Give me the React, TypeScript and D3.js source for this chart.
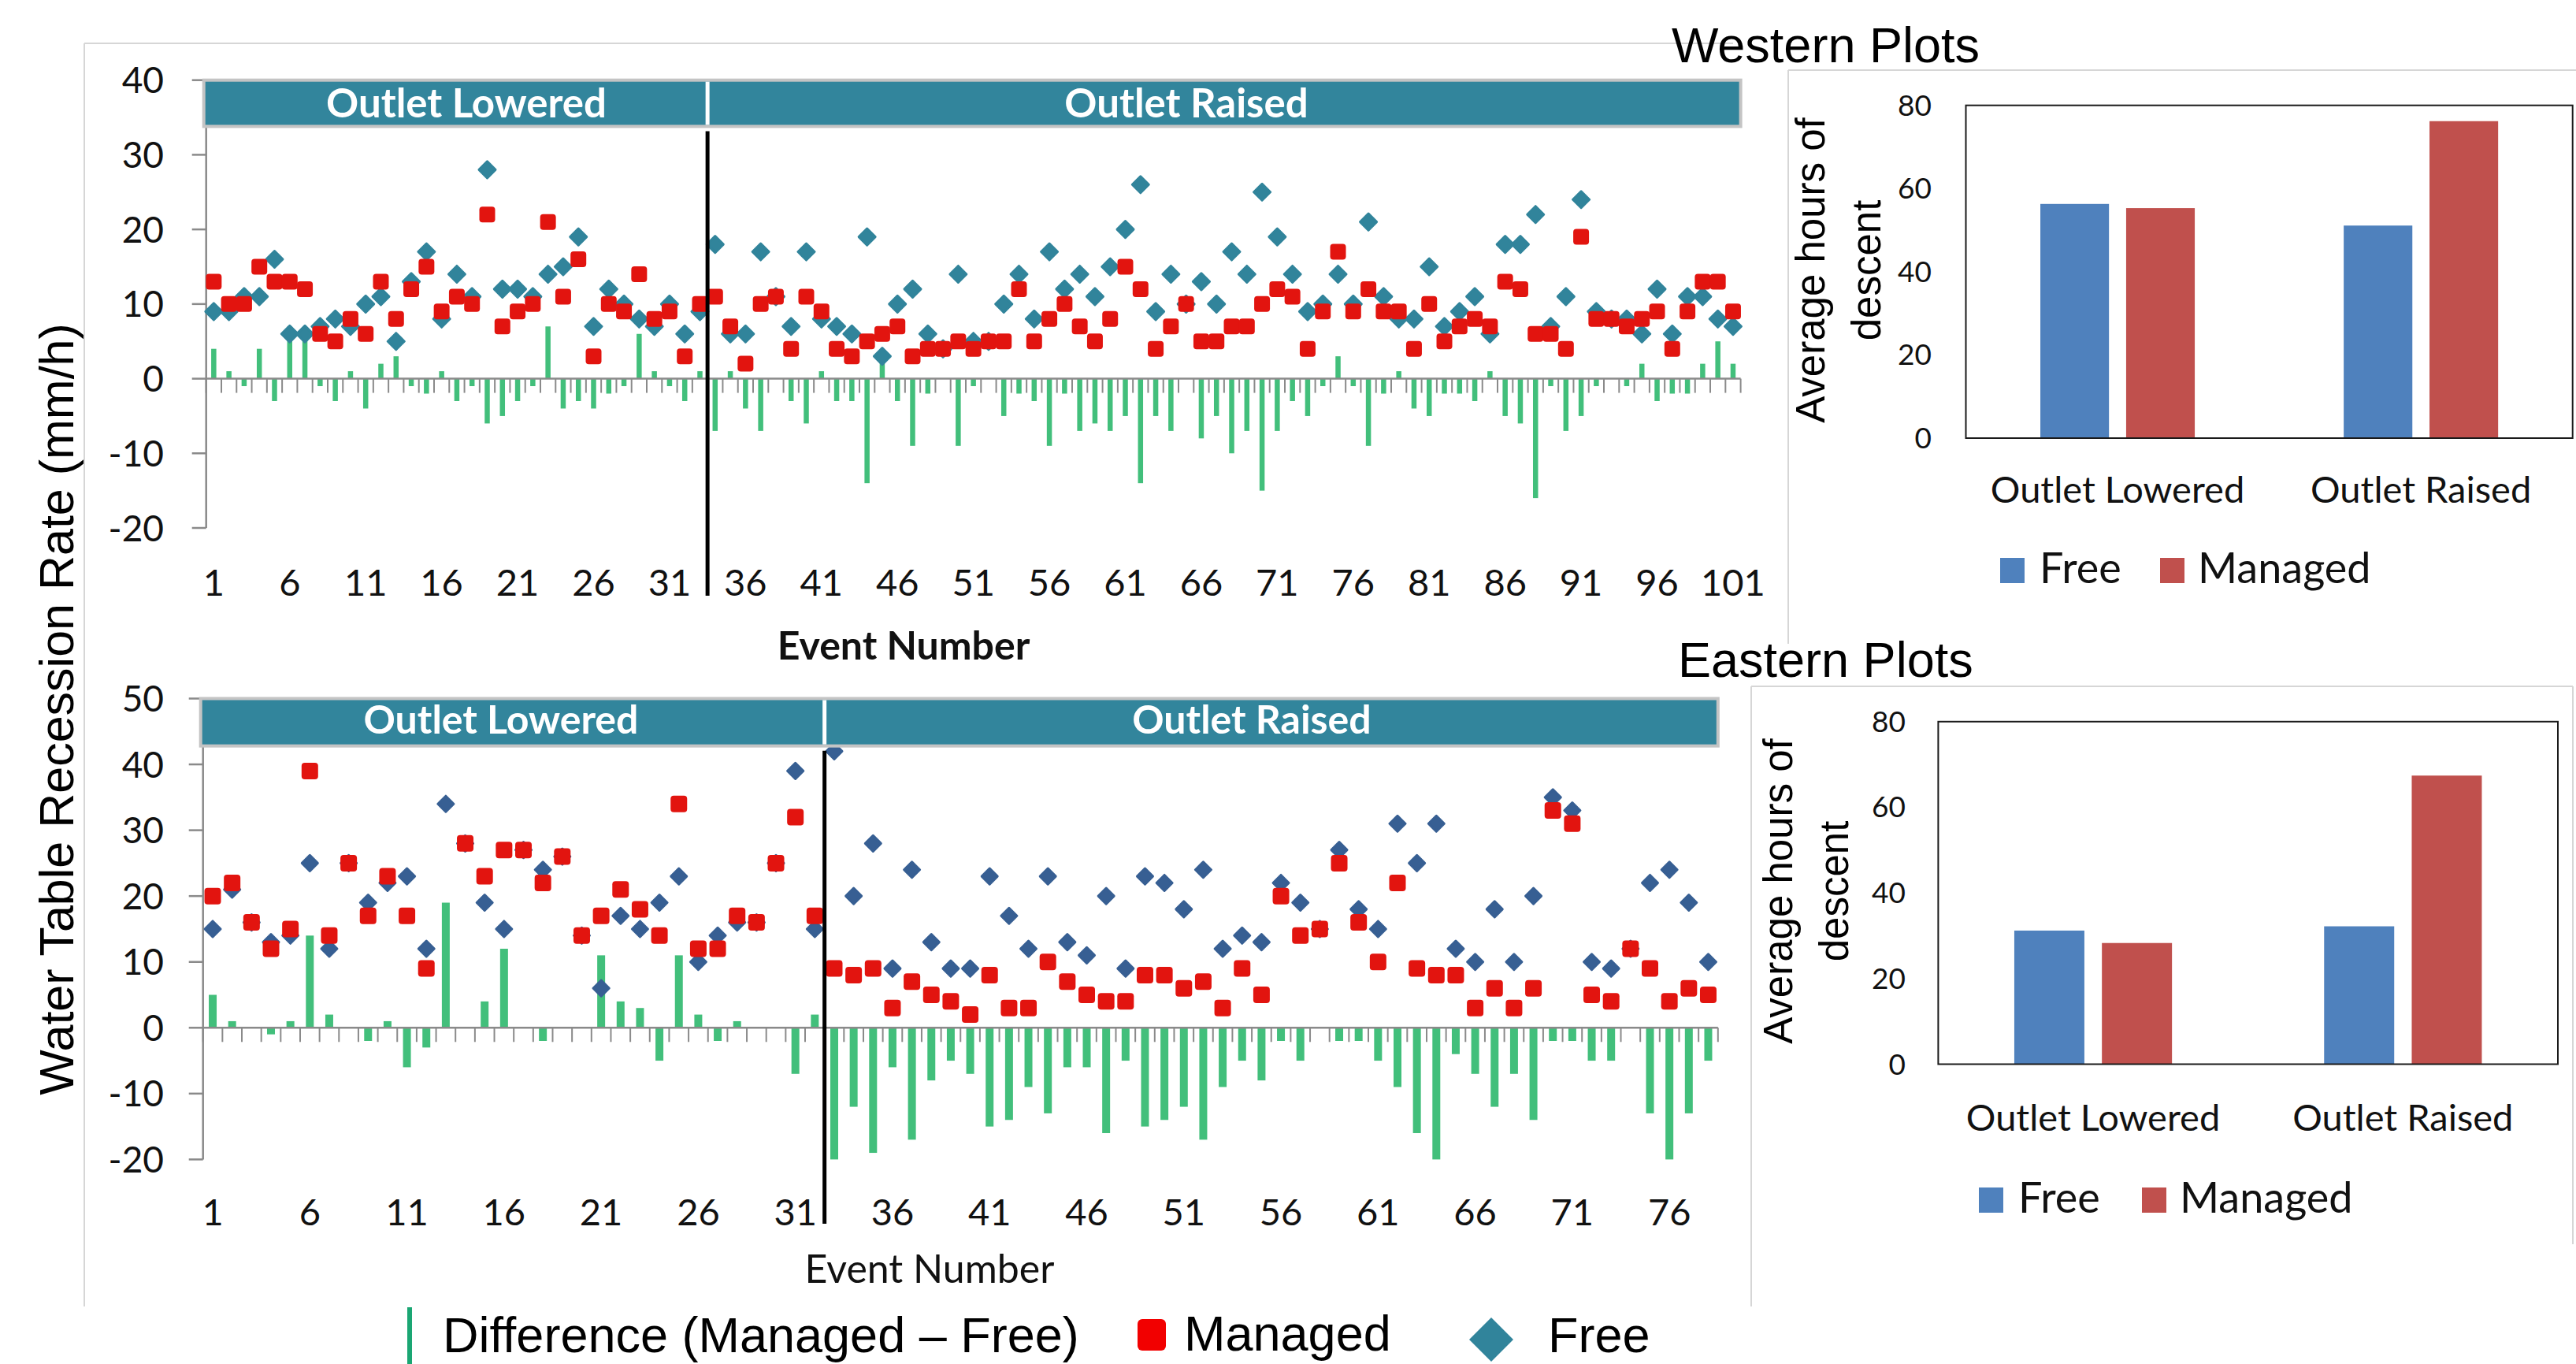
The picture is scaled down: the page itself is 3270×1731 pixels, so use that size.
import React from 'react';
import * as d3 from 'd3';

// ---------------- DATA ----------------
// Top panel (Western plots) – 101 events
const topManaged = [
  13, 10, 10, 15, 13, 13, 12, 6, 5, 8, 6, 13, 8, 12, 15, 9, 11, 10, 22, 7, 9, 10, 21, 11, 16, 3, 10, 9, 14, 8, 9, 3, 10,
  11, 7, 2, 10, 11, 4, 11, 9, 4, 3, 5, 6, 7, 3, 4, 4, 5, 4, 5, 5, 12, 5, 8, 10, 7, 5, 8, 15, 12, 4, 7, 10, 5, 5, 7, 7,
  10, 12, 11, 4, 9, 17, 9, 12, 9, 9, 4, 10, 5, 7, 8, 7, 13, 12, 6, 6, 4, 19, 8, 8, 7, 8, 9, 4, 9, 13, 13, 9,
];
const topFree = [
  9, 9, 11, 11, 16, 6, 6, 7, 8, 7, 10, 11, 5, 13, 17, 8, 14, 11, 28, 12, 12, 11, 14, 15, 19, 7, 12, 10, 8, 7, 10, 6, 9,
  18, 6, 6, 17, 11, 7, 17, 8, 7, 6, 19, 3, 10, 12, 6, 4, 14, 5, 5, 10, 14, 8, 17, 12, 14, 11, 15, 20, 26, 9, 14, 10, 13, 10, 17, 14,
  25, 19, 14, 9, 10, 14, 10, 21, 11, 8, 8, 15, 7, 9, 11, 6, 18, 18, 22, 7, 11, 24, 9, 8, 8, 6, 12, 6, 11, 11, 8, 7,
];
const topDiff = [
  4, 1, -1, 4, -3, 7, 6, -1, -3, 1, -4, 2, 3, -1, -2, 1, -3, -1, -6, -5, -3, -1, 7, -4, -3, -4, -2, -1, 6, 1, -1, -3, 1,
  -7, 1, -4, -7, 0, -3, -6, 1, -3, -3, -14, 3, -3, -9, -2, 0, -9, -1, 0, -5, -2, -3, -9, -2, -7, -6, -7, -5, -14, -5, -7, 0, -8, -5, -10, -7,
  -15, -7, -3, -5, -1, 3, -1, -9, -2, 1, -4, -5, -2, -2, -3, 1, -5, -6, -16, -1, -7, -5, -1, 0, -1, 2, -3, -2, -2, 2, 5, 2,
];

// Bottom panel (Eastern plots) – 78 events
const bottomManaged: (number | null)[] = [
  20, 22, 16, 12, 15, 39, 14, 25, 17, 23, 17, 9, null, 28, 23, 27, 27, 22, 26, 14, 17, 21, 18, 14, 34, 12, 12, 17, 16, 25, 32, 17,
  9, 8, 9, 3, 7, 5, 4, 2, 8, 3, 3, 10, 7, 5, 4, 4, 8, 8, 6, 7, 3, 9, 5, 20, 14, 15, 25, 16, 10, 22, 9, 8, 8, 3, 6, 3, 6, 33, 31, 5,
  4, 12, 9, 4, 6, 5,
];
const bottomFree = [
  15, 21, 16, 13, 14, 25, 12, 25, 19, 22, 23, 12, 34, 28, 19, 15, 27, 24, 26, 14, 6, 17, 15, 19, 23, 10, 14, 16, 16, 25, 39, 15,
  42, 20, 28, 9, 24, 13, 9, 9, 23, 17, 12, 23, 13, 11, 20, 9, 23, 22, 18, 24, 12, 14, 13, 22, 19, 15, 27, 18, 15, 31, 25, 31, 12, 10,
  18, 10, 20, 35, 33, 10, 9, 12, 22, 24, 19, 10,
];
const bottomDiff = [
  5, 1, 0, -1, 1, 14, 2, 0, -2, 1, -6, -3, 19, 0, 4, 12, 0, -2, 0, 0, 11, 4, 3, -5, 11, 2, -2, 1, 0, 0, -7, 2,
  -33, -12, -19, -6, -17, -8, -5, -7, -15, -14, -9, -13, -6, -6, -16, -5, -15, -14, -12, -17, -9, -5, -8, -2, -5, 0, -2, -2, -5, -9,
  -16, -23, -4, -7, -12, -7, -14, -2, -2, -5, -5, 0, -13, -20, -13, -5,
];

const topXTicks = [1, 6, 11, 16, 21, 26, 31, 36, 41, 46, 51, 56, 61, 66, 71, 76, 81, 86, 91, 96, 101];
const bottomXTicks = [1, 6, 11, 16, 21, 26, 31, 36, 41, 46, 51, 56, 61, 66, 71, 76];
const topYTicks = [40, 30, 20, 10, 0, -10, -20];
const bottomYTicks = [50, 40, 30, 20, 10, 0, -10, -20];

const barCategories = ['Outlet Lowered', 'Outlet Raised'];
const barSeries = ['Free', 'Managed'];
const westernFree = [56.3, 51.1];
const westernManaged = [55.3, 76.2];
const easternFree = [31.2, 32.2];
const easternManaged = [28.3, 67.4];
const barYTicks = [0, 20, 40, 60, 80];

// ---------------- STYLE ----------------
const CAL = "Lato, 'Open Sans', sans-serif";
const ARI = "'Liberation Sans', Arial, Helvetica, sans-serif";
const BANNER = '#32859c';
const TEAL = '#31849b';
const NAVY = '#375f93';
const RED = '#e2140f';
const GREEN = '#42bf7b';
const AXIS = '#8a8a8a';
const FREE_C = '#4f81bd';
const MAN_C = '#c0504d';
const BORDER = '#d6d6d6';

function diamondPath(cx: number, cy: number, h: number) {
  return `M${cx},${cy - h}L${cx + h},${cy}L${cx},${cy + h}L${cx - h},${cy}Z`;
}

function EventChart(p: any) {
  const n = p.managed.length;
  const events = d3.range(1, n + 1);
  const x = d3.scaleBand<number>().domain(events).range([p.x0, p.x1]).paddingInner(0).paddingOuter(0);
  const bw = x.bandwidth();
  const cx = (e: number) => (x(e) as number) + bw / 2;
  const y = d3.scaleLinear().domain(p.yDomain).range(p.yRange);
  const yc = (v: number) => y(Math.max(p.yDomain[0], Math.min(p.yDomain[1], v)));
  const y0 = y(0);
  const divX = x(p.split + 1) as number;
  const boundaries = events.map((e) => x(e) as number).concat([p.x1]);
  const hd = p.diamond / 2;
  const sq = p.square;
  return (
    <g>
      {/* y axis */}
      <line x1={p.x0} x2={p.x0} y1={y(p.yDomain[1])} y2={y(p.yDomain[0])} stroke={AXIS} strokeWidth={2.5} />
      {p.yTicks.map((t: number) => (
        <g key={'yt' + t}>
          <line x1={p.x0 - 18} x2={p.x0} y1={y(t)} y2={y(t)} stroke={AXIS} strokeWidth={2.5} />
          <text x={p.yLabelRight} y={y(t) + 16.5} textAnchor="end" fontFamily={CAL} fontSize={46} fill="#111">
            {t}
          </text>
        </g>
      ))}
      {/* category tick marks */}
      {boundaries.map((bx, i) => (
        <line key={'xt' + i} x1={bx} x2={bx} y1={y0} y2={y0 + 18} stroke={AXIS} strokeWidth={2} />
      ))}
      {/* difference bars */}
      {p.diff.map((d: number, i: number) =>
        d === 0 ? null : (
          <rect
            key={'b' + i}
            x={cx(i + 1) - p.barW / 2}
            y={Math.min(yc(d), y0)}
            width={p.barW}
            height={Math.abs(yc(d) - y0)}
            fill={GREEN}
          />
        )
      )}
      <line x1={p.x0} x2={p.x1} y1={y0} y2={y0} stroke={AXIS} strokeWidth={2.5} />
      {/* free diamonds */}
      {p.free.map((v: number, i: number) => (
        <path
          key={'f' + i}
          d={diamondPath(cx(i + 1), y(v), hd - 1.5)}
          fill={p.diamondColor}
          stroke={p.diamondColor}
          strokeWidth={3}
          strokeLinejoin="round"
        />
      ))}
      {/* managed squares */}
      {p.managed.map((v: number | null, i: number) =>
        v === null ? null : (
          <rect
            key={'m' + i}
            x={cx(i + 1) - sq / 2}
            y={y(v) - sq / 2}
            width={sq}
            height={sq}
            rx={4}
            fill={RED}
          />
        )
      )}
      {/* banner */}
      <rect
        x={p.x0 - 3}
        y={y(p.yDomain[1])}
        width={p.x1 - p.x0 + 3}
        height={y(p.bannerLow) - y(p.yDomain[1])}
        fill={BANNER}
        stroke="#c4c4c4"
        strokeWidth={4}
      />
      <line x1={divX} x2={divX} y1={y(p.yDomain[1]) + 2} y2={y(p.bannerLow) - 2} stroke="#ffffff" strokeWidth={5} />
      <text x={p.lowLabelX} y={p.bannerBaseline} textAnchor="middle" fontFamily={CAL} fontWeight={700} fontSize={p.bannerSize} fill="#ffffff">
        Outlet Lowered
      </text>
      <text x={p.raiseLabelX} y={p.bannerBaseline} textAnchor="middle" fontFamily={CAL} fontWeight={700} fontSize={p.bannerSize} fill="#ffffff">
        Outlet Raised
      </text>
      {/* divider */}
      <line x1={divX} x2={divX} y1={y(p.bannerLow) + 6} y2={p.dividerBottom} stroke="#000" strokeWidth={5} />
      {/* x labels */}
      {p.xTicks.map((t: number) => (
        <text key={'xl' + t} x={cx(t)} y={p.xLabelBaseline} textAnchor="middle" fontFamily={CAL} fontSize={p.xLabelSize} fill="#111">
          {t}
        </text>
      ))}
      <text
        x={p.titleX}
        y={p.titleBaseline}
        textAnchor="middle"
        fontFamily={CAL}
        fontWeight={p.titleBold ? 700 : 400}
        fontSize={p.titleSize}
        fill="#111"
      >
        Event Number
      </text>
    </g>
  );
}

function BarPanel(p: any) {
  const x = d3.scaleBand<string>().domain(barCategories).range([p.px0, p.px1]).padding(0);
  const groupW = x.bandwidth() * 0.509;
  const sub = d3.scaleBand<string>().domain(barSeries).range([0, groupW]).paddingInner(0.2).paddingOuter(0);
  const y = d3.scaleLinear().domain([0, 80]).range([p.py1, p.py0]);
  const vals: Record<string, number[]> = { Free: p.free, Managed: p.managed };
  const colors: Record<string, string> = { Free: FREE_C, Managed: MAN_C };
  return (
    <g>
      <text x={p.titleX} y={p.titleBaseline} fontFamily={ARI} fontSize={63} fill="#000">
        {p.title}
      </text>
      {barCategories.map((c) => {
        const gx = (x(c) as number) + x.bandwidth() / 2 - groupW / 2;
        return (
          <g key={c}>
            {barSeries.map((s) => {
              const v = vals[s][barCategories.indexOf(c)];
              return (
                <rect
                  key={s}
                  x={gx + (sub(s) as number)}
                  y={y(v)}
                  width={sub.bandwidth()}
                  height={y(0) - y(v)}
                  fill={colors[s]}
                />
              );
            })}
            <text
              x={(x(c) as number) + x.bandwidth() / 2}
              y={p.catBaseline}
              textAnchor="middle"
              fontFamily={CAL}
              fontSize={47}
              fill="#111"
            >
              {c}
            </text>
          </g>
        );
      })}
      <rect x={p.px0} y={p.py0} width={p.px1 - p.px0} height={p.py1 - p.py0} fill="none" stroke="#1a1a1a" strokeWidth={2} />
      {barYTicks.map((t) => (
        <text key={t} x={p.tickRight} y={y(t) + 13} textAnchor="end" fontFamily={CAL} fontSize={37} fill="#111">
          {t}
        </text>
      ))}
      <text transform={`translate(${p.yt1},${p.ytc}) rotate(-90)`} textAnchor="middle" fontFamily={ARI} fontSize={51} fill="#000">
        Average hours of
      </text>
      <text transform={`translate(${p.yt2},${p.ytc}) rotate(-90)`} textAnchor="middle" fontFamily={ARI} fontSize={51} fill="#000">
        descent
      </text>
      {/* legend */}
      <rect x={p.lgFree} y={p.lgTop} width={31} height={32} fill={FREE_C} />
      <text x={p.lgFree + 50} y={p.lgBase} fontFamily={CAL} fontSize={54} fill="#111">
        Free
      </text>
      <rect x={p.lgMan} y={p.lgTop} width={31} height={32} fill={MAN_C} />
      <text x={p.lgMan + 48} y={p.lgBase} fontFamily={CAL} fontSize={54} fill="#111">
        Managed
      </text>
    </g>
  );
}

export default function App() {
  return (
    <svg
      width={3270}
      height={1731}
      viewBox="0 0 3270 1731"
      style={{ position: 'absolute', left: 0, top: 0, background: '#fff' }}
    >
      <rect x={0} y={0} width={3270} height={1731} fill="#fff" />
      {/* panel borders */}
      <line x1={107} x2={2200} y1={55} y2={55} stroke={BORDER} strokeWidth={2} />
      <line x1={107} x2={107} y1={55} y2={1658} stroke={BORDER} strokeWidth={2} />
      <line x1={2270} x2={3270} y1={89} y2={89} stroke={BORDER} strokeWidth={2} />
      <line x1={2270} x2={2270} y1={89} y2={817} stroke={BORDER} strokeWidth={2} />
      <line x1={2223} x2={3266} y1={871} y2={871} stroke={BORDER} strokeWidth={2} />
      <line x1={2223} x2={2223} y1={871} y2={1658} stroke={BORDER} strokeWidth={2} />
      <line x1={3266} x2={3266} y1={871} y2={1579} stroke={BORDER} strokeWidth={2} />

      <EventChart
        managed={topManaged}
        free={topFree}
        diff={topDiff}
        x0={261.7}
        x1={2209.6}
        yDomain={[-20, 40]}
        yRange={[670, 101.7]}
        yTicks={topYTicks}
        yLabelRight={208}
        xTicks={topXTicks}
        xLabelBaseline={756}
        xLabelSize={47}
        split={33}
        bannerLow={33.8}
        bannerBaseline={149}
        bannerSize={51}
        lowLabelX={592}
        raiseLabelX={1506}
        dividerBottom={756}
        diamondColor={TEAL}
        diamond={24}
        square={20}
        barW={6.5}
        titleX={1147}
        titleBaseline={837}
        titleBold={true}
        titleSize={50}
      />
      <EventChart
        managed={bottomManaged}
        free={bottomFree}
        diff={bottomDiff}
        x0={257.7}
        x1={2180.8}
        yDomain={[-20, 50]}
        yRange={[1471.4, 886.5]}
        yTicks={bottomYTicks}
        yLabelRight={208}
        xTicks={bottomXTicks}
        xLabelBaseline={1555}
        xLabelSize={47}
        split={32}
        bannerLow={42.8}
        bannerBaseline={931}
        bannerSize={50}
        lowLabelX={636}
        raiseLabelX={1589}
        dividerBottom={1553}
        diamondColor={NAVY}
        diamond={23}
        square={21}
        barW={10}
        titleX={1180}
        titleBaseline={1628}
        titleBold={false}
        titleSize={50}
      />

      {/* main y title */}
      <text transform="translate(93,900) rotate(-90)" textAnchor="middle" fontFamily={ARI} fontSize={61} fill="#000">
        Water Table Recession Rate (mm/h)
      </text>

      <BarPanel
        title="Western Plots"
        titleX={2122}
        titleBaseline={79}
        free={westernFree}
        managed={westernManaged}
        px0={2495.5}
        px1={3265.7}
        py0={133.7}
        py1={556}
        tickRight={2452}
        catBaseline={638}
        yt1={2316}
        yt2={2387}
        ytc={343}
        lgFree={2539}
        lgMan={2742}
        lgTop={708}
        lgBase={740}
      />
      <BarPanel
        title="Eastern Plots"
        titleX={2130}
        titleBaseline={859}
        free={easternFree}
        managed={easternManaged}
        px0={2460.4}
        px1={3247}
        py0={915.8}
        py1={1350.5}
        tickRight={2419}
        catBaseline={1435}
        yt1={2275}
        yt2={2346}
        ytc={1131}
        lgFree={2512}
        lgMan={2719}
        lgTop={1507}
        lgBase={1539}
      />

      {/* bottom legend */}
      <rect x={517} y={1659} width={6} height={80} fill="#1aa673" />
      <text x={562} y={1716} fontFamily={ARI} fontSize={63} fill="#000">
        Difference (Managed – Free)
      </text>
      <rect x={1444} y={1674} width={36} height={40} rx={6} fill="#f20000" />
      <text x={1503} y={1714} fontFamily={ARI} fontSize={63} fill="#000">
        Managed
      </text>
      <path d="M1893,1672L1921,1700L1893,1728L1865,1700Z" fill={TEAL} />
      <text x={1965} y={1716} fontFamily={ARI} fontSize={63} fill="#000">
        Free
      </text>
    </svg>
  );
}
